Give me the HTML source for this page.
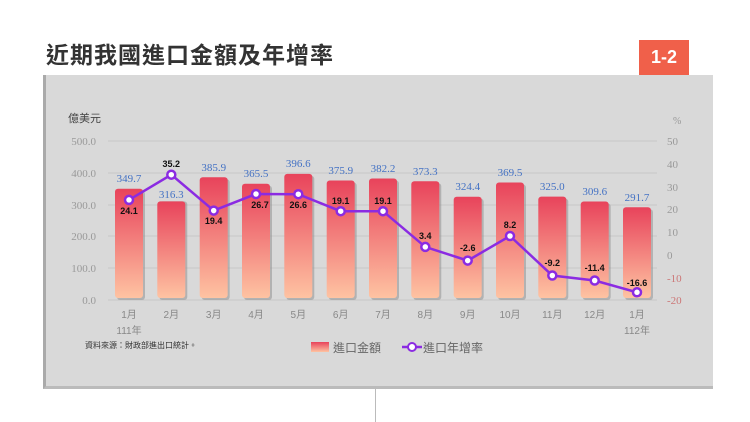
<!DOCTYPE html>
<html><head><meta charset="utf-8"><style>
body{margin:0;width:750px;height:422px;background:#fff;overflow:hidden;position:relative;font-family:"Liberation Sans","Noto Sans CJK TC",sans-serif}
.title{position:absolute;left:46px;top:36px;font-size:23px;font-weight:bold;color:#333;letter-spacing:1px}
.badge{position:absolute;left:639px;top:40px;width:50px;height:35px;background:#f0604a;color:#fff;font-weight:bold;font-size:18px;text-align:center;line-height:35px}
.panel{position:absolute;left:43px;top:75px;width:667px;height:311px;background:#d9d9d9;border-left:3px solid #aaa;border-bottom:3px solid #bbb}
.vline{position:absolute;left:375px;top:389px;width:1px;height:33px;background:#bbb}
svg{position:absolute;left:0;top:0}
</style></head><body>
<div class="title">近期我國進口金額及年增率</div>
<div class="badge">1-2</div>
<div class="panel"></div>
<div class="vline"></div>
<svg width="750" height="422" font-family="Liberation Serif, Noto Serif CJK SC, serif">
<defs>
<linearGradient id="bg1" x1="0" y1="0" x2="0" y2="1"><stop offset="0" stop-color="#e8435b"/><stop offset="1" stop-color="#fec3a2"/></linearGradient>
</defs>
<g stroke="#c6c6c6" stroke-width="1">
<line x1="108" y1="141" x2="657" y2="141"/><line x1="108" y1="173" x2="657" y2="173"/><line x1="108" y1="205" x2="657" y2="205"/><line x1="108" y1="236" x2="657" y2="236"/><line x1="108" y1="268" x2="657" y2="268"/><line x1="108" y1="300" x2="657" y2="300"/>
</g>
<g font-size="11" fill="#999" text-anchor="end">
<text x="96" y="145">500.0</text><text x="96" y="177">400.0</text><text x="96" y="209">300.0</text><text x="96" y="240">200.0</text><text x="96" y="272">100.0</text><text x="96" y="304">0.0</text>
</g>
<text x="68" y="122" font-size="11" fill="#444" font-family="Liberation Sans, Noto Sans CJK TC, sans-serif">億美元</text>
<text x="673" y="124" font-size="10" fill="#999">%</text>
<g font-size="11" fill="#999">
<text x="667" y="145">50</text><text x="667" y="168">40</text><text x="667" y="191">30</text><text x="667" y="213">20</text><text x="667" y="236">10</text><text x="667" y="259">0</text>
<text x="667" y="282" fill="#c77">-10</text><text x="667" y="304" fill="#c77">-20</text>
</g>
<g fill="#999" opacity="0.6">
<rect x="117" y="191" width="28" height="109" rx="3"/><rect x="159.3" y="201.4" width="28" height="98.6" rx="3"/><rect x="201.7" y="179.3" width="28" height="120.7" rx="3"/><rect x="244" y="185.8" width="28" height="114.2" rx="3"/><rect x="286.3" y="175.9" width="28" height="124.1" rx="3"/><rect x="328.7" y="182.5" width="28" height="117.5" rx="3"/><rect x="371" y="180.5" width="28" height="119.5" rx="3"/><rect x="413.3" y="183.3" width="28" height="116.7" rx="3"/><rect x="455.7" y="198.8" width="28" height="101.2" rx="3"/><rect x="498" y="184.5" width="28" height="115.5" rx="3"/><rect x="540.3" y="198.6" width="28" height="101.4" rx="3"/><rect x="582.7" y="203.5" width="28" height="96.5" rx="3"/><rect x="625" y="209.2" width="28" height="90.8" rx="3"/>
</g>
<g fill="url(#bg1)">
<rect x="115" y="188.8" width="28" height="109.2" rx="3"/><rect x="157.3" y="201.4" width="28" height="96.6" rx="3"/><rect x="199.7" y="177.3" width="28" height="120.7" rx="3"/><rect x="242" y="183.8" width="28" height="114.2" rx="3"/><rect x="284.3" y="173.9" width="28" height="124.1" rx="3"/><rect x="326.7" y="180.5" width="28" height="117.5" rx="3"/><rect x="369" y="178.5" width="28" height="119.5" rx="3"/><rect x="411.3" y="181.3" width="28" height="116.7" rx="3"/><rect x="453.7" y="196.8" width="28" height="101.2" rx="3"/><rect x="496" y="182.5" width="28" height="115.5" rx="3"/><rect x="538.3" y="196.6" width="28" height="101.4" rx="3"/><rect x="580.7" y="201.5" width="28" height="96.5" rx="3"/><rect x="623" y="207.2" width="28" height="90.8" rx="3"/>
</g>
<g font-size="11" fill="#4472c4" text-anchor="middle">
<text x="129" y="182">349.7</text><text x="171.3" y="198">316.3</text><text x="213.7" y="171">385.9</text><text x="256" y="177">365.5</text><text x="298.3" y="167">396.6</text><text x="340.7" y="174">375.9</text><text x="383" y="172">382.2</text><text x="425.3" y="175">373.3</text><text x="467.7" y="190">324.4</text><text x="510" y="176">369.5</text><text x="552.3" y="190">325.0</text><text x="594.7" y="195">309.6</text><text x="637" y="201">291.7</text>
</g>
<g font-size="10" fill="#888" text-anchor="middle" font-family="Liberation Sans, Noto Sans CJK TC, sans-serif">
<text x="129" y="318">1月</text><text x="171.3" y="318">2月</text><text x="213.7" y="318">3月</text><text x="256" y="318">4月</text><text x="298.3" y="318">5月</text><text x="340.7" y="318">6月</text><text x="383" y="318">7月</text><text x="425.3" y="318">8月</text><text x="467.7" y="318">9月</text><text x="510" y="318">10月</text><text x="552.3" y="318">11月</text><text x="594.7" y="318">12月</text><text x="637" y="318">1月</text>
<text x="129" y="334">111年</text><text x="637" y="334">112年</text>
</g>
<polyline fill="none" stroke="#8b2be2" stroke-width="2.5" points="129,199.9 171.3,174.7 213.7,210.6 256,194 298.3,194.2 340.7,211.2 383,211.2 425.3,246.9 467.7,260.6 510,236.0 552.3,275.5 594.7,280.5 637,292.3"/>
<g fill="#fff" stroke="#8b2be2" stroke-width="2.5">
<circle cx="129" cy="199.9" r="4"/><circle cx="171.3" cy="174.7" r="4"/><circle cx="213.7" cy="210.6" r="4"/><circle cx="256" cy="194" r="4"/><circle cx="298.3" cy="194.2" r="4"/><circle cx="340.7" cy="211.2" r="4"/><circle cx="383" cy="211.2" r="4"/><circle cx="425.3" cy="246.9" r="4"/><circle cx="467.7" cy="260.6" r="4"/><circle cx="510" cy="236" r="4"/><circle cx="552.3" cy="275.5" r="4"/><circle cx="594.7" cy="280.5" r="4"/><circle cx="637" cy="292.3" r="4"/>
</g>
<g font-size="9" font-weight="bold" fill="#111" text-anchor="middle" font-family="Liberation Sans, sans-serif">
<text x="129" y="214">24.1</text><text x="171.3" y="167">35.2</text><text x="213.7" y="224">19.4</text><text x="260" y="208">26.7</text><text x="298.3" y="208">26.6</text><text x="340.7" y="204">19.1</text><text x="383" y="204">19.1</text><text x="425.3" y="239">3.4</text><text x="467.7" y="251">-2.6</text><text x="510" y="228">8.2</text><text x="552.3" y="266">-9.2</text><text x="594.7" y="271">-11.4</text><text x="637" y="286">-16.6</text>
</g>
<text x="85" y="348" font-size="8" fill="#333" font-family="Liberation Sans, Noto Sans CJK TC, sans-serif">資料來源：財政部進出口統計。</text>
<rect x="311" y="342" width="18" height="10" fill="url(#bg1)"/>
<text x="333" y="352" font-size="12" fill="#666" font-family="Liberation Sans, Noto Sans CJK TC, sans-serif">進口金額</text>
<line x1="402" y1="347" x2="422" y2="347" stroke="#8b2be2" stroke-width="2.5"/>
<circle cx="412" cy="347" r="4" fill="#fff" stroke="#8b2be2" stroke-width="2"/>
<text x="423" y="352" font-size="12" fill="#666" font-family="Liberation Sans, Noto Sans CJK TC, sans-serif">進口年增率</text>
</svg>
</body></html>
